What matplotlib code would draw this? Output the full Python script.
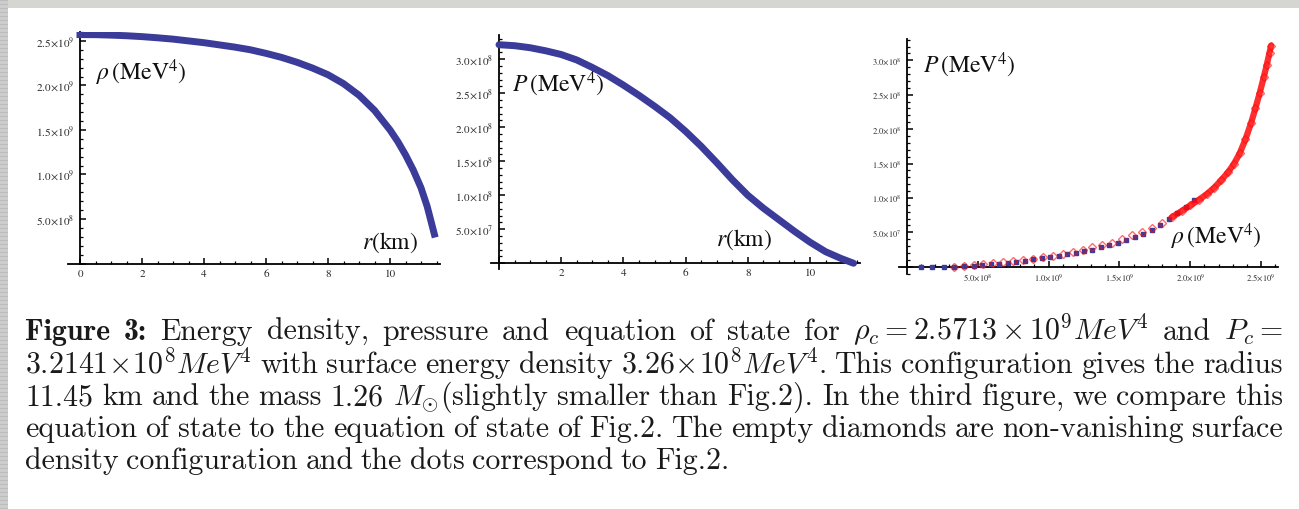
import matplotlib
matplotlib.use("Agg")
import matplotlib.pyplot as plt
from matplotlib.patches import Rectangle
from matplotlib.ticker import MultipleLocator, FuncFormatter

# ---- data ----
# panel a: energy density vs radius (rho in 1e9 MeV^4)
r_rho = [0, 0.5, 1, 1.5, 2, 2.5, 3, 3.5, 4, 4.5, 5, 5.5, 6, 6.5, 7, 7.5, 8, 8.5, 9, 9.5,
         10, 10.25, 10.5, 10.75, 11.0, 11.2, 11.43]
rho = [2.571, 2.570, 2.565, 2.558, 2.548, 2.535, 2.52, 2.50, 2.48, 2.455, 2.43, 2.40, 2.36,
       2.315, 2.26, 2.195, 2.12, 2.02, 1.89, 1.72, 1.50, 1.37, 1.22, 1.05, 0.85, 0.64, 0.33]

# panel b: pressure vs radius (P in 1e8 MeV^4)
r_p = [0, 0.5, 1, 1.5, 2, 2.5, 3, 3.5, 4, 4.5, 5, 5.5, 6, 6.5, 7, 7.5, 8, 8.5, 9, 9.5,
       10, 10.5, 11, 11.4]
pres = [3.214, 3.20, 3.17, 3.125, 3.07, 2.99, 2.88, 2.76, 2.62, 2.47, 2.31, 2.14, 1.94, 1.72,
        1.48, 1.23, 1.00, 0.81, 0.64, 0.47, 0.31, 0.17, 0.07, 0.0]

# panel c: equation of state, Fig.2 dots (blue) and this configuration (red diamonds)
eos2_rho = [0.10, 0.18, 0.26, 0.33, 0.40, 0.47, 0.53, 0.59, 0.65, 0.71, 0.77, 0.83, 0.89,
            0.95, 1.01, 1.07, 1.13, 1.19, 1.25, 1.31, 1.37, 1.43, 1.49, 1.55, 1.61, 1.67,
            1.73, 1.79, 1.85, 1.91, 1.97, 2.03]
eos2_p = [0.0, 0.0, 0.0, 0.0, 0.005, 0.012, 0.022, 0.033, 0.046, 0.06, 0.075, 0.09, 0.106,
          0.123, 0.142, 0.16, 0.18, 0.20, 0.225, 0.25, 0.28, 0.31, 0.345, 0.385, 0.43, 0.48,
          0.54, 0.61, 0.69, 0.78, 0.87, 0.97]
eos_rho = [0.33, 0.40, 0.47, 0.54, 0.61, 0.68, 0.75, 0.82, 0.89, 0.96, 1.03, 1.10, 1.17,
           1.24, 1.31, 1.38, 1.45, 1.52, 1.59, 1.66, 1.73, 1.80, 1.87, 1.94, 2.00, 2.06,
           2.12, 2.17, 2.22, 2.27, 2.31, 2.35, 2.39, 2.43, 2.46, 2.49, 2.52, 2.54, 2.56, 2.571]
eos_p = [0.0, 0.01, 0.02, 0.035, 0.05, 0.065, 0.08, 0.095, 0.115, 0.135, 0.16, 0.19, 0.22,
         0.25, 0.28, 0.31, 0.35, 0.40, 0.46, 0.50, 0.56, 0.64, 0.72, 0.81, 0.89, 0.97,
         1.06, 1.15, 1.26, 1.38, 1.50, 1.65, 1.85, 2.09, 2.30, 2.52, 2.76, 2.93, 3.11, 3.214]

# caption words, (text, font); math pieces in $...$
R, B = "cmr10", "cmb10"
caption = [
    [("Figure", B), ("3:", B), ("Energy", R), ("density,", R), ("pressure", R), ("and", R),
     ("equation", R), ("of", R), ("state", R), ("for", R),
     (r"$\rho_c = 2.5713\times10^9MeV^4$", R), ("and", R), (r"$P_c =$", R)],
    [(r"$3.2141\!\times\!10^8MeV^4$", R), ("with", R), ("surface", R), ("energy", R),
     ("density", R), (r"$3.26\!\times\!10^8MeV^4$.", R), ("This", R), ("configuration", R),
     ("gives", R), ("the", R), ("radius", R)],
    [("11.45", R), ("km", R), ("and", R), ("the", R), ("mass", R), ("1.26", R),
     (r"$M_{\odot}$(slightly", R), ("smaller", R), ("than", R), ("Fig.2).", R), ("In", R),
     ("the", R), ("third", R), ("figure,", R), ("we", R), ("compare", R), ("this", R)],
    [("equation", R), ("of", R), ("state", R), ("to", R), ("the", R), ("equation", R),
     ("of", R), ("state", R), ("of", R), ("Fig.2.", R), ("The", R), ("empty", R),
     ("diamonds", R), ("are", R), ("non-vanishing", R), ("surface", R)],
    [("density", R), ("configuration", R), ("and", R), ("the", R), ("dots", R),
     ("correspond", R), ("to", R), ("Fig.2.", R)],
]

W, H = 1299, 509
BLUE = "#3b3b99"
RED = "#ff0a0a"

plt.rcParams["mathtext.fontset"] = "stix"
plt.rcParams["font.family"] = ["STIXGeneral", "DejaVu Serif"]

fig = plt.figure(figsize=(W / 100, H / 100), dpi=100)
fig.patch.set_facecolor("white")

# grey screenshot border (top and left)
fig.patches.append(Rectangle((0, 1 - 8 / H), 1, 8 / H, transform=fig.transFigure,
                             facecolor="#d5d5d1", edgecolor="none", zorder=0))
fig.patches.append(Rectangle((0, 0), 8 / W, 1, transform=fig.transFigure,
                             facecolor="#cdcdcd", edgecolor="none", zorder=0))
for k in range(0, H, 4):
    fig.patches.append(Rectangle((0, k / H), 8 / W, 1.2 / H, transform=fig.transFigure,
                                 facecolor="#bcbcbc", edgecolor="none", zorder=0))


def rect(x0, x1, ytop, ybot):
    return [x0 / W, 1 - ybot / H, (x1 - x0) / W, (ybot - ytop) / H]


def fmt_factory(scale_exp):
    # tick values are in units of 10**scale_exp
    def f(v, pos):
        if v <= 1e-9:
            return ""
        real = v * 10 ** scale_exp
        e = 0
        while real >= 9.999:
            real /= 10
            e += 1
        return r"$%.1f\!\times\! 10^{%d}$" % (real, e)
    return f


def style(ax, xlim, ylim, xmaj, xmin, ymaj, ymin, lab_fs):
    ax.set_xlim(*xlim)
    ax.set_ylim(*ylim)
    for s in ("top", "right"):
        ax.spines[s].set_visible(False)
    for s in ("left", "bottom"):
        ax.spines[s].set_position(("data", 0))
        ax.spines[s].set_linewidth(1.3)
    ax.xaxis.set_major_locator(MultipleLocator(xmaj))
    ax.xaxis.set_minor_locator(MultipleLocator(xmin))
    ax.yaxis.set_major_locator(MultipleLocator(ymaj))
    ax.yaxis.set_minor_locator(MultipleLocator(ymin))
    ax.tick_params(which="major", direction="in", length=4.5, width=1.1,
                   labelsize=lab_fs, labelcolor="#2a2a2a", pad=4)
    ax.tick_params(which="minor", direction="in", length=2.4, width=0.9)
    ax.patch.set_alpha(0)


# ---- panel a ----
ax1 = fig.add_axes(rect(67.6, 439.6, 32, 263.5))
ax1.plot(r_rho, rho, "-", color=BLUE, lw=5, solid_capstyle="projecting",
         solid_joinstyle="round", zorder=3)
style(ax1, (-0.4, 11.6), (0, 2.6), 2, 0.5, 0.5, 0.1, 8)
ax1.xaxis.set_major_formatter(FuncFormatter(lambda v, p: "%d" % round(v) if v > -0.1 else ""))
ax1.yaxis.set_major_formatter(FuncFormatter(fmt_factory(9)))

# ---- panel b ----
ax2 = fig.add_axes(rect(491.2, 859.8, 34.8, 268.7))
ax2.plot(r_p, pres, "-", color=BLUE, lw=5, solid_capstyle="round",
         solid_joinstyle="round", zorder=3)
style(ax2, (-0.25, 11.6), (-0.08, 3.36), 2, 0.5, 0.5, 0.1, 8)
ax2.xaxis.set_major_formatter(FuncFormatter(lambda v, p: "%d" % round(v) if v > 0.1 else ""))
ax2.yaxis.set_major_formatter(FuncFormatter(fmt_factory(8)))

# ---- panel c ----
ax3 = fig.add_axes(rect(898.5, 1278, 39.0, 273.6))
ax3.plot(eos2_rho, eos2_p, "s", color=BLUE, ms=3.5, zorder=3)
# points get dense near the centre, so they merge into a thick band there
ax3.plot(eos_rho[22:], eos_p[22:], "-", color=RED, lw=4.5, alpha=0.85,
         solid_capstyle="round", solid_joinstyle="round", zorder=4)
ax3.plot(eos_rho, eos_p, "D", mfc="none", mec=RED, mew=1.0, ms=4.2, alpha=0.6, zorder=4)
style(ax3, (-0.06, 2.62), (-0.1, 3.31), 0.5, 0.1, 0.5, 0.1, 6)
ax3.xaxis.set_major_formatter(FuncFormatter(fmt_factory(9)))
ax3.yaxis.set_major_formatter(FuncFormatter(fmt_factory(8)))


# axis titles (figure pixel coordinates, from the top)
def ptext(x, y, s):
    fig.text(x / W, 1 - y / H, s, fontsize=17, va="center", ha="left", color="#111111")


ptext(96, 73, r"$\rho\,\left(\mathrm{MeV}^{4}\right)$")
ptext(362, 243, r"$r\mathrm{(km)}$")
ptext(512, 84, r"$P\,\left(\mathrm{MeV}^{4}\right)$")
ptext(716, 240, r"$r\mathrm{(km)}$")
ptext(923, 65, r"$P\,\left(\mathrm{MeV}^{4}\right)$")
ptext(1171, 237, r"$\rho\,\left(\mathrm{MeV}^{4}\right)$")

# ---- caption, justified line by line ----
renderer = fig.canvas.get_renderer()
X0, X1 = 25, 1283
baselines = [340, 373, 405, 437, 469]
for i, (tokens, yb) in enumerate(zip(caption, baselines)):
    txts = [fig.text(0, 1 - yb / H, t, fontsize=21.5, family=f, math_fontfamily="cm",
                     va="baseline", ha="left", color="#1a1a1a") for t, f in tokens]
    widths = [t.get_window_extent(renderer).width for t in txts]
    if i < len(caption) - 1:
        gap = (X1 - X0 - sum(widths)) / (len(tokens) - 1)
    else:
        gap = 7.5
    x = X0
    for t, w in zip(txts, widths):
        t.set_x(x / W)
        x += w + gap

fig.savefig("out.png", dpi=100)
